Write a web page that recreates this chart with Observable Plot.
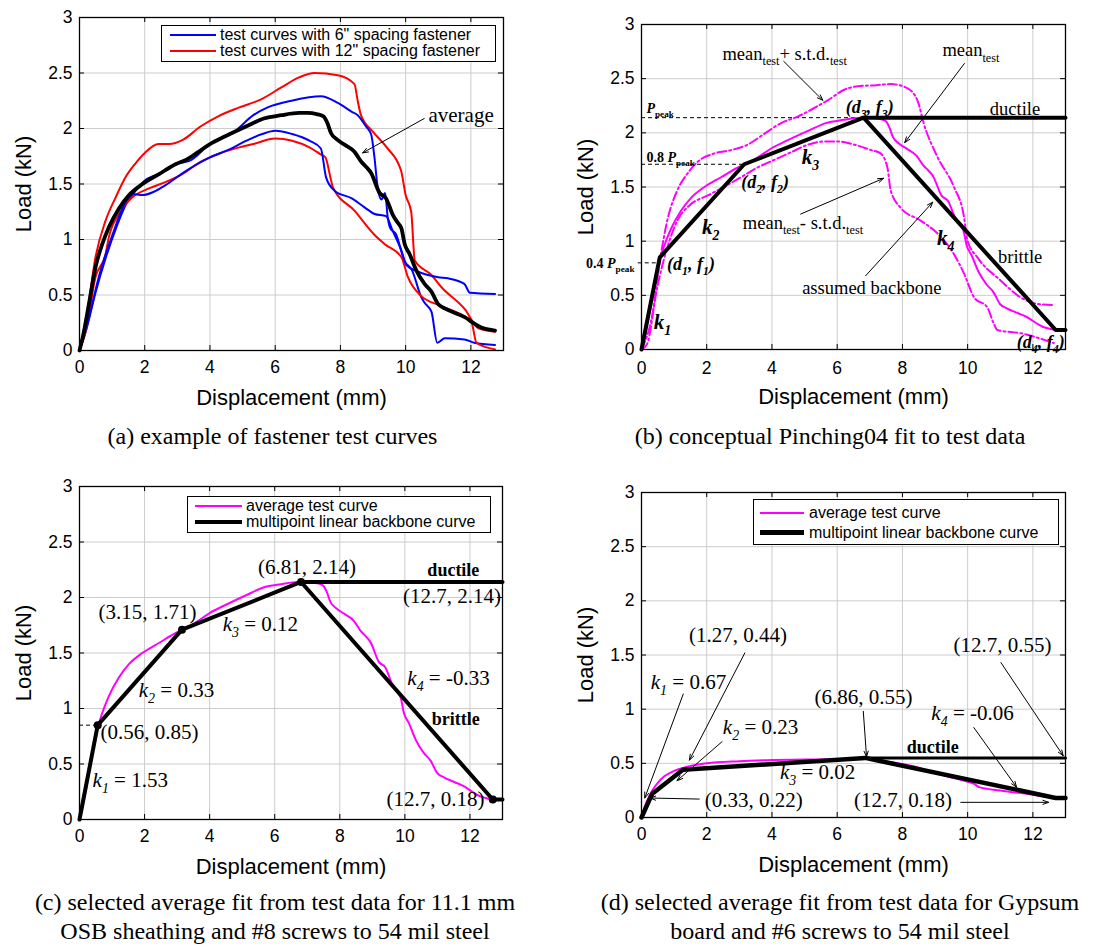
<!DOCTYPE html>
<html><head><meta charset="utf-8">
<script src="https://cdn.jsdelivr.net/npm/d3@7"></script>
<script src="https://cdn.jsdelivr.net/npm/@observablehq/plot@0.6"></script>
<style>
body{margin:0;background:#fff;}
#root{position:relative;width:1109px;height:951px;overflow:hidden;background:#fff;}
.panel{position:absolute;}
.cap{position:absolute;font-family:"Liberation Serif","Times New Roman",serif;font-size:24px;text-align:center;line-height:29px;color:#000;white-space:nowrap;}
.legend{position:absolute;box-sizing:border-box;border:1.5px solid #000;background:#fff;}
.legend .sw{position:absolute;}
.legend .lt{position:absolute;font-family:"Liberation Sans",Arial,sans-serif;font-size:16px;line-height:20px;white-space:nowrap;color:#000;}
</style>
</head><body><div id="root"></div>
<script>
// ---------- axes ----------
const xTicks = [0, 2, 4, 6, 8, 10, 12];
const yTicks = [0, 0.5, 1, 1.5, 2, 2.5, 3];
const xDomain = [0, 13];
const yDomain = [0, 3];

// ---------- (a) test curves ----------
const avgDisp = [0, 0.1, 0.29, 0.49, 0.7, 0.9, 1.21, 1.52, 1.93, 2.44, 2.96, 3.28, 3.6, 4.0, 4.47, 5.12, 5.65, 6.19, 6.73, 7.0, 7.27, 7.48, 7.6, 7.71, 7.9, 8.15, 8.43, 8.64, 8.8, 8.94, 9.2, 9.4, 9.61, 9.76, 9.87, 9.97, 10.12, 10.33, 10.58, 10.79, 10.99, 11.2, 11.5, 11.81, 12.12, 12.3, 12.53, 12.74];
const avgLoad = [0, 0.12, 0.42, 0.75, 0.96, 1.11, 1.28, 1.40, 1.50, 1.59, 1.68, 1.72, 1.78, 1.86, 1.93, 2.02, 2.09, 2.12, 2.14, 2.14, 2.13, 2.11, 2.05, 1.96, 1.90, 1.85, 1.79, 1.70, 1.65, 1.60, 1.42, 1.37, 1.22, 1.15, 1.10, 0.96, 0.87, 0.72, 0.60, 0.53, 0.42, 0.38, 0.34, 0.30, 0.24, 0.21, 0.19, 0.18];

const blueADisp = [0, 0.27, 0.59, 1.02, 1.35, 1.62, 1.93, 2.28, 2.64, 3.28, 4.0, 4.58, 5.12, 5.6, 6.0, 6.52, 7.05, 7.4, 7.56, 7.82, 8.35, 8.74, 9.05, 9.4, 9.6, 9.87, 10.02, 10.38, 11.0, 11.3, 11.8, 11.97, 12.74];
const blueALoad = [0, 0.27, 0.66, 1.05, 1.30, 1.41, 1.40, 1.43, 1.49, 1.62, 1.74, 1.81, 1.89, 1.95, 1.98, 1.95, 1.89, 1.82, 1.56, 1.44, 1.37, 1.29, 1.23, 1.21, 1.08, 0.90, 0.77, 0.71, 0.66, 0.65, 0.60, 0.52, 0.51];

const blueBDisp = [0, 0.22, 0.48, 0.81, 1.13, 1.45, 1.78, 2.0, 2.53, 2.96, 3.39, 4.0, 4.74, 5.33, 5.77, 6.5, 7.4, 7.92, 8.35, 8.53, 8.78, 8.94, 9.04, 9.15, 9.26, 9.37, 9.45, 9.53, 9.7, 9.96, 10.2, 10.48, 10.58, 10.79, 10.97, 11.2, 11.8, 12.1, 12.74];
const blueBLoad = [0, 0.20, 0.51, 0.84, 1.11, 1.33, 1.46, 1.53, 1.60, 1.68, 1.71, 1.86, 1.97, 2.12, 2.19, 2.25, 2.29, 2.23, 2.15, 2.12, 2.02, 1.95, 1.75, 1.45, 1.36, 1.42, 1.20, 1.10, 1.05, 0.81, 0.72, 0.48, 0.43, 0.35, 0.07, 0.11, 0.10, 0.07, 0.05];

const redCDisp = [0, 0.22, 0.49, 0.8, 1.11, 1.41, 1.7, 2.0, 2.42, 2.75, 3.18, 3.72, 4.25, 4.9, 5.55, 6.19, 6.73, 7.2, 7.92, 8.43, 8.53, 8.63, 9.0, 9.42, 9.86, 10.0, 10.17, 10.28, 10.79, 11.1, 11.82, 12.23, 12.74];
const redCLoad = [0, 0.30, 0.84, 1.17, 1.38, 1.56, 1.68, 1.78, 1.86, 1.86, 1.90, 2.02, 2.11, 2.19, 2.26, 2.37, 2.46, 2.50, 2.48, 2.40, 2.25, 2.12, 1.97, 1.83, 1.62, 1.40, 1.25, 0.81, 0.68, 0.57, 0.37, 0.20, 0.17];

const redDDisp = [0, 0.2, 0.49, 0.8, 0.9, 1.21, 1.62, 2.13, 2.74, 3.26, 3.6, 4.25, 4.9, 5.33, 6.0, 6.52, 7.05, 7.38, 7.54, 7.7, 7.77, 8.43, 9.05, 9.35, 9.87, 10.07, 10.48, 11.1, 12.02, 12.17, 12.74];
const redDLoad = [0, 0.18, 0.66, 0.87, 1.02, 1.23, 1.38, 1.46, 1.53, 1.61, 1.68, 1.77, 1.83, 1.86, 1.91, 1.89, 1.83, 1.77, 1.74, 1.55, 1.47, 1.26, 1.04, 0.96, 0.84, 0.66, 0.49, 0.40, 0.25, 0.07, 0.01];

// ---------- (b) mean +/- std ----------
const upDisp = [0, 0.33, 0.58, 0.79, 1.1, 1.4, 1.71, 2.23, 2.74, 3.25, 3.76, 4.28, 4.79, 5.3, 5.71, 6.23, 6.64, 7.2, 7.64, 8.1, 8.46, 8.66, 9.07, 9.58, 9.89, 9.99, 10.3, 11.0, 11.63, 12.14, 12.64];
const upLoad = [0, 0.32, 0.85, 1.19, 1.47, 1.62, 1.73, 1.81, 1.84, 1.89, 1.99, 2.09, 2.15, 2.23, 2.30, 2.40, 2.43, 2.44, 2.45, 2.42, 2.30, 2.08, 1.78, 1.50, 1.22, 1.01, 0.85, 0.64, 0.48, 0.42, 0.41];
const loDisp = [0, 0.17, 0.48, 0.79, 1.1, 1.51, 2.02, 2.53, 3.05, 3.56, 4.07, 4.58, 5.1, 5.61, 6.02, 6.53, 7.05, 7.33, 7.54, 7.64, 7.94, 8.56, 8.97, 9.58, 9.89, 10.2, 10.6, 10.8, 10.91, 11.63, 12.44, 12.64];
const loLoad = [0, 0.05, 0.57, 0.94, 1.19, 1.34, 1.42, 1.50, 1.59, 1.68, 1.75, 1.82, 1.89, 1.92, 1.92, 1.89, 1.84, 1.81, 1.68, 1.47, 1.31, 1.19, 1.10, 0.88, 0.70, 0.48, 0.39, 0.24, 0.18, 0.15, 0.08, 0.06];

// ---------- backbones ----------
const bbOsbDisp = [0, 0.56, 3.15, 6.81, 12.7, 13];
const bbOsbLoad = [0, 0.85, 1.71, 2.14, 0.18, 0.18];
const ductOsbDisp = [6.81, 13];
const ductOsbLoad = [2.14, 2.14];
const peakLoad = 2.14;

const bbGypDisp = [0, 0.33, 1.27, 6.86, 12.7, 13];
const bbGypLoad = [0, 0.22, 0.44, 0.55, 0.18, 0.18];
const ductGypDisp = [6.86, 13];
const ductGypLoad = [0.55, 0.55];

const gypAvgDisp = [0, 0.15, 0.33, 0.5, 0.7, 1.0, 1.3, 2.0, 3.0, 4.0, 5.0, 6.0, 6.86, 7.5, 8.5, 9.0, 9.5, 10.0, 10.2, 10.35, 11.0, 12.0, 12.7];
const gypAvgLoad = [0, 0.14, 0.25, 0.32, 0.38, 0.43, 0.46, 0.50, 0.52, 0.53, 0.535, 0.535, 0.55, 0.52, 0.46, 0.41, 0.37, 0.33, 0.31, 0.28, 0.25, 0.21, 0.18];

// ---------- annotations (data coordinates) ----------
const annA = [{t: "average", x: 11.7, y: 2.12}];
const arrA = [{x1: 10.57, y1: 2.09, x2: 8.68, y2: 1.78}];

const annBText = [
  {t: "mean_{test}+ s.t.d._{test}", x: 4.39, y: 2.73},
  {t: "mean_{test}", x: 10.1, y: 2.76},
  {t: "mean_{test}- s.t.d._{test}", x: 4.95, y: 1.17},
  {t: "assumed backbone", x: 7.06, y: 0.57},
  {t: "ductile", x: 11.45, y: 2.22},
  {t: "brittle", x: 11.61, y: 0.85}
];
const annBPts = [
  {t: "*(d_{1}, f_{1})*", x: 1.52, y: 0.79},
  {t: "*(d_{2}, f_{2})*", x: 3.79, y: 1.54},
  {t: "*(d_{3}, f_{3})*", x: 7.0, y: 2.24},
  {t: "*(d_{4}, f_{4})*", x: 12.24, y: 0.07}
];
const annBK = [
  {t: "*k_{1}*", x: 0.64, y: 0.25},
  {t: "*k_{2}*", x: 2.12, y: 1.13},
  {t: "*k_{3}*", x: 5.18, y: 1.77},
  {t: "*k_{4}*", x: 9.33, y: 1.03}
];
const annBP = [
  {t: "*P*_{peak}", x: 0.15, y: 2.22},
  {t: "0.8 *P*_{peak}", x: 0.15, y: 1.77},
  {t: "0.4 *P*_{peak}", x: -1.7, y: 0.79}
];
const refB = [
  {y: peakLoad, x1: 0, x2: 6.81},
  {y: 1.71, x1: 0, x2: 3.15},
  {y: 0.80, x1: -0.1, x2: 0.52}
];
const arrB = [
  {x1: 4.36, y1: 2.66, x2: 5.56, y2: 2.30},
  {x1: 9.9, y1: 2.64, x2: 8.07, y2: 1.91},
  {x1: 4.88, y1: 1.25, x2: 7.42, y2: 1.58},
  {x1: 6.87, y1: 0.68, x2: 8.93, y2: 1.36}
];

const annC = [
  {t: "(6.81, 2.14)", x: 6.99, y: 2.27},
  {t: "(12.7, 2.14)", x: 11.45, y: 2.01},
  {t: "(3.15, 1.71)", x: 2.09, y: 1.87},
  {t: "*k_{3}* = 0.12", x: 5.56, y: 1.76},
  {t: "*k_{2}* = 0.33", x: 2.98, y: 1.16},
  {t: "(0.56, 0.85)", x: 2.15, y: 0.79},
  {t: "*k_{1}* = 1.53", x: 1.56, y: 0.35},
  {t: "*k_{4}* = -0.33", x: 11.34, y: 1.27},
  {t: "(12.7, 0.18)", x: 10.94, y: 0.18}
];
const annCBold = [
  {t: "ductile", x: 11.49, y: 2.25},
  {t: "brittle", x: 11.56, y: 0.90}
];
const refC = [{y: 0.85, x1: 0, x2: 0.56}];

const annD = [
  {t: "(1.27, 0.44)", x: 2.96, y: 1.68},
  {t: "(12.7, 0.55)", x: 11.07, y: 1.59},
  {t: "*k_{1}* = 0.67", x: 1.44, y: 1.25},
  {t: "(6.86, 0.55)", x: 6.81, y: 1.11},
  {t: "*k_{4}* = -0.06", x: 10.15, y: 0.96},
  {t: "*k_{2}* = 0.23", x: 3.65, y: 0.83},
  {t: "*k_{3}* = 0.02", x: 5.4, y: 0.42},
  {t: "(0.33, 0.22)", x: 3.44, y: 0.16},
  {t: "(12.7, 0.18)", x: 8.02, y: 0.16}
];
const annDBold = [{t: "ductile", x: 8.93, y: 0.65}];
const arrD = [
  {x1: 1.28, y1: 1.14, x2: 0.1, y2: 0.18},
  {x1: 3.17, y1: 1.52, x2: 1.47, y2: 0.53},
  {x1: 2.47, y1: 0.70, x2: 1.09, y2: 0.34},
  {x1: 1.77, y1: 0.17, x2: 0.26, y2: 0.18},
  {x1: 6.8, y1: 0.98, x2: 6.9, y2: 0.56},
  {x1: 10.19, y1: 0.83, x2: 11.5, y2: 0.28},
  {x1: 11.02, y1: 1.43, x2: 12.93, y2: 0.57},
  {x1: 9.79, y1: 0.14, x2: 12.48, y2: 0.14}
];

// ---------- helpers ----------
const SANS = "Liberation Sans, Arial, Helvetica, sans-serif";
const SERIF = "Liberation Serif, Times New Roman, serif";
const GRID = "#cccccc";
const CURVE = "monotone-x";
const zip = (xs, ys) => xs.map((x, i) => ({x, y: ys[i]}));
const fmt = d => String(d);

function frameMarks(innerW, innerH) {
  const ly = 5 * (yDomain[1] - yDomain[0]) / innerH;
  const lx = 5 * (xDomain[1] - xDomain[0]) / innerW;
  return [
    Plot.ruleX(xTicks, {y1: yDomain[0], y2: yDomain[0] + ly, stroke: "#000", strokeWidth: 1}),
    Plot.ruleX(xTicks, {y1: yDomain[1] - ly, y2: yDomain[1], stroke: "#000", strokeWidth: 1}),
    Plot.ruleY(yTicks, {x1: xDomain[0], x2: xDomain[0] + lx, stroke: "#000", strokeWidth: 1}),
    Plot.ruleY(yTicks, {x1: xDomain[1] - lx, x2: xDomain[1], stroke: "#000", strokeWidth: 1}),
    Plot.frame({stroke: "#000", strokeWidth: 1.3}),
    Plot.text(["Displacement (mm)"], {text: d => d, frameAnchor: "bottom", lineAnchor: "middle", textAnchor: "middle", dy: 47, fontSize: 22, fontFamily: SANS}),
    Plot.text(["Load (kN)"], {text: d => d, frameAnchor: "left", lineAnchor: "middle", textAnchor: "middle", dx: -56, rotate: -90, fontSize: 22, fontFamily: SANS})
  ];
}
function gridMarks() {
  return [
    Plot.ruleX(xTicks, {stroke: GRID, strokeWidth: 1}),
    Plot.ruleY(yTicks, {stroke: GRID, strokeWidth: 1})
  ];
}

function makePanel({left, top, width, height, ml, mr, mt, mb, marks, padX}) {
  const innerW = width - ml - mr, innerH = height - mt - mb;
  const svg = Plot.plot({
    width, height,
    marginLeft: ml, marginRight: mr, marginTop: mt, marginBottom: mb,
    x: {domain: xDomain, ticks: xTicks, tickFormat: fmt, tickSize: 0, tickPadding: padX || 10, label: null},
    y: {domain: yDomain, ticks: yTicks, tickFormat: fmt, tickSize: 0, tickPadding: 7, label: null},
    style: {fontSize: "17.5px", fontFamily: SANS, background: "transparent", overflow: "visible", color: "#000"},
    marks: [...gridMarks(), ...marks, ...frameMarks(innerW, innerH)]
  });
  const div = document.createElement("div");
  div.className = "panel";
  div.style.left = left + "px";
  div.style.top = top + "px";
  div.appendChild(svg);
  document.getElementById("root").appendChild(div);
  richify(svg);
  return svg;
}

// mini markup: *italic*, _{subscript}
function parseRich(s) {
  const segs = [];
  let it = false, buf = "", i = 0;
  const flush = sub => { if (buf) segs.push({text: buf, it, sub}); buf = ""; };
  while (i < s.length) {
    const c = s[i];
    if (c === "*") { flush(false); it = !it; i++; continue; }
    if (c === "_" && s[i + 1] === "{") {
      flush(false);
      const j = s.indexOf("}", i);
      buf = s.slice(i + 2, j);
      flush(true);
      i = j + 1;
      continue;
    }
    buf += c; i++;
  }
  flush(false);
  return segs;
}
function richify(svg) {
  const NS = "http://www.w3.org/2000/svg";
  svg.querySelectorAll("text").forEach(t => {
    const s = t.textContent;
    if (!/\*|_\{/.test(s)) return;
    const fs = parseFloat(getComputedStyle(t).fontSize) || 16;
    const segs = parseRich(s);
    t.textContent = "";
    let lowered = false;
    for (const seg of segs) {
      const ts = document.createElementNS(NS, "tspan");
      ts.textContent = seg.text;
      if (seg.it) ts.setAttribute("font-style", "italic");
      if (seg.sub) {
        ts.setAttribute("font-size", (fs * 0.66).toFixed(1) + "px");
        if (!lowered) { ts.setAttribute("dy", (fs * 0.28).toFixed(1)); lowered = true; }
      } else if (lowered) {
        ts.setAttribute("dy", (-fs * 0.28).toFixed(1));
        lowered = false;
      }
      t.appendChild(ts);
    }
  });
}

function addLegend({left, top, width, height, rows, swLeft, swWidth, txtLeft}) {
  const box = document.createElement("div");
  box.className = "legend";
  Object.assign(box.style, {left: left + "px", top: top + "px", width: width + "px", height: height + "px"});
  for (const r of rows) {
    const sw = document.createElement("div");
    sw.className = "sw";
    Object.assign(sw.style, {left: swLeft + "px", top: (r.cy - r.lw / 2) + "px", width: swWidth + "px", height: r.lw + "px", background: r.color});
    const tx = document.createElement("span");
    tx.className = "lt";
    tx.textContent = r.label;
    Object.assign(tx.style, {left: txtLeft + "px", top: (r.cy - 10) + "px"});
    box.appendChild(sw); box.appendChild(tx);
  }
  document.getElementById("root").appendChild(box);
}
function addCaption(lines, left, width, top) {
  const d = document.createElement("div");
  d.className = "cap";
  Object.assign(d.style, {left: left + "px", width: width + "px", top: top + "px"});
  d.innerHTML = lines.map(l => l.replace(/&/g, "&amp;").replace(/</g, "&lt;")).join("<br>");
  document.getElementById("root").appendChild(d);
}

// ---------- panel (a) ----------
makePanel({
  left: 0, top: 0, width: 550, height: 420, ml: 79, mr: 47, mt: 17, mb: 70,
  marks: [
    Plot.line(zip(redCDisp, redCLoad), {x: "x", y: "y", stroke: "#ff0000", strokeWidth: 2, curve: CURVE}),
    Plot.line(zip(blueBDisp, blueBLoad), {x: "x", y: "y", stroke: "#0000ff", strokeWidth: 2, curve: CURVE}),
    Plot.line(zip(redDDisp, redDLoad), {x: "x", y: "y", stroke: "#ff0000", strokeWidth: 2, curve: CURVE}),
    Plot.line(zip(blueADisp, blueALoad), {x: "x", y: "y", stroke: "#0000ff", strokeWidth: 2, curve: CURVE}),
    Plot.line(zip(avgDisp, avgLoad), {x: "x", y: "y", stroke: "#000", strokeWidth: 3.8, curve: CURVE}),
    Plot.arrow(arrA, {x1: "x1", y1: "y1", x2: "x2", y2: "y2", stroke: "#000", strokeWidth: 1, headLength: 9, headAngle: 40}),
    Plot.text(annA, {x: "x", y: "y", text: "t", fontSize: 21, fontFamily: SERIF})
  ]
});

// ---------- panel (b) ----------
makePanel({
  left: 560, top: 0, width: 549, height: 420, ml: 81, mr: 44, mt: 24, mb: 71, padX: 12,
  marks: [
    Plot.ruleY(refB, {y: "y", x1: "x1", x2: "x2", stroke: "#000", strokeWidth: 1, strokeDasharray: "4,3"}),
    Plot.line(zip(upDisp, upLoad), {x: "x", y: "y", stroke: "#ff00ff", strokeWidth: 2, strokeDasharray: "9,3,2,3", curve: CURVE}),
    Plot.line(zip(loDisp, loLoad), {x: "x", y: "y", stroke: "#ff00ff", strokeWidth: 2, strokeDasharray: "9,3,2,3", curve: CURVE}),
    Plot.line(zip(avgDisp, avgLoad), {x: "x", y: "y", stroke: "#ff00ff", strokeWidth: 2, curve: CURVE}),
    Plot.line(zip(bbOsbDisp, bbOsbLoad), {x: "x", y: "y", stroke: "#000", strokeWidth: 4}),
    Plot.line(zip(ductOsbDisp, ductOsbLoad), {x: "x", y: "y", stroke: "#000", strokeWidth: 4}),
    Plot.arrow(arrB, {x1: "x1", y1: "y1", x2: "x2", y2: "y2", stroke: "#000", strokeWidth: 1, headLength: 9, headAngle: 40}),
    Plot.text(annBText, {x: "x", y: "y", text: "t", fontSize: 18.5, fontFamily: SERIF}),
    Plot.text(annBPts, {x: "x", y: "y", text: "t", fontSize: 18, fontWeight: "bold", fontFamily: SERIF}),
    Plot.text(annBK, {x: "x", y: "y", text: "t", fontSize: 21, fontWeight: "bold", fontFamily: SERIF}),
    Plot.text(annBP, {x: "x", y: "y", text: "t", fontSize: 14, fontWeight: "bold", fontFamily: SERIF, textAnchor: "start"})
  ]
});

// ---------- panel (c) ----------
makePanel({
  left: 0, top: 470, width: 550, height: 420, ml: 79, mr: 48, mt: 16, mb: 71,
  marks: [
    Plot.ruleY(refC, {y: "y", x1: "x1", x2: "x2", stroke: "#000", strokeWidth: 1, strokeDasharray: "4,3"}),
    Plot.line(zip(avgDisp, avgLoad), {x: "x", y: "y", stroke: "#ff00ff", strokeWidth: 2, curve: CURVE}),
    Plot.line(zip(bbOsbDisp, bbOsbLoad), {x: "x", y: "y", stroke: "#000", strokeWidth: 4}),
    Plot.line(zip(ductOsbDisp, ductOsbLoad), {x: "x", y: "y", stroke: "#000", strokeWidth: 4}),
    Plot.dot(zip(bbOsbDisp, bbOsbLoad).slice(1, 5), {x: "x", y: "y", r: 4, fill: "#000"}),
    Plot.text(annC, {x: "x", y: "y", text: "t", fontSize: 21, fontFamily: SERIF}),
    Plot.text(annCBold, {x: "x", y: "y", text: "t", fontSize: 18, fontWeight: "bold", fontFamily: SERIF})
  ]
});

// ---------- panel (d) ----------
makePanel({
  left: 560, top: 470, width: 549, height: 420, ml: 81, mr: 44, mt: 22, mb: 73,
  marks: [
    Plot.line(zip(gypAvgDisp, gypAvgLoad), {x: "x", y: "y", stroke: "#ff00ff", strokeWidth: 2, curve: CURVE}),
    Plot.line(zip(ductGypDisp, ductGypLoad), {x: "x", y: "y", stroke: "#000", strokeWidth: 3}),
    Plot.line(zip(bbGypDisp, bbGypLoad), {x: "x", y: "y", stroke: "#000", strokeWidth: 4.5}),
    Plot.arrow(arrD, {x1: "x1", y1: "y1", x2: "x2", y2: "y2", stroke: "#000", strokeWidth: 1, headLength: 9, headAngle: 40}),
    Plot.text(annD, {x: "x", y: "y", text: "t", fontSize: 21, fontFamily: SERIF}),
    Plot.text(annDBold, {x: "x", y: "y", text: "t", fontSize: 18, fontWeight: "bold", fontFamily: SERIF})
  ]
});

// ---------- legends ----------
addLegend({left: 161, top: 25, width: 335, height: 37, swLeft: 8, swWidth: 46, txtLeft: 58,
  rows: [
    {label: 'test curves with 6" spacing fastener', color: "#0000ff", lw: 2, cy: 8.5},
    {label: 'test curves with 12" spacing fastener', color: "#ff0000", lw: 2, cy: 24.5}
  ]});
addLegend({left: 187, top: 496, width: 304, height: 37, swLeft: 7, swWidth: 47, txtLeft: 58,
  rows: [
    {label: "average test curve", color: "#ff00ff", lw: 2, cy: 9},
    {label: "multipoint linear backbone curve", color: "#000", lw: 4, cy: 25}
  ]});
addLegend({left: 753, top: 499, width: 306, height: 46, swLeft: 6, swWidth: 44, txtLeft: 55,
  rows: [
    {label: "average test curve", color: "#ff00ff", lw: 2, cy: 12.5},
    {label: "multipoint linear backbone curve", color: "#000", lw: 4.5, cy: 32.5}
  ]});

// ---------- captions ----------
addCaption(["(a) example of fastener test curves"], 0, 545, 422);
addCaption(["(b) conceptual Pinching04 fit to test data"], 555, 550, 422);
addCaption(["(c) selected average fit from test data for 11.1 mm", "OSB sheathing and #8 screws to 54 mil steel"], 0, 550, 888);
addCaption(["(d) selected average fit from test data for Gypsum", "board and #6 screws to 54 mil steel"], 565, 550, 888);
</script>
</body></html>
